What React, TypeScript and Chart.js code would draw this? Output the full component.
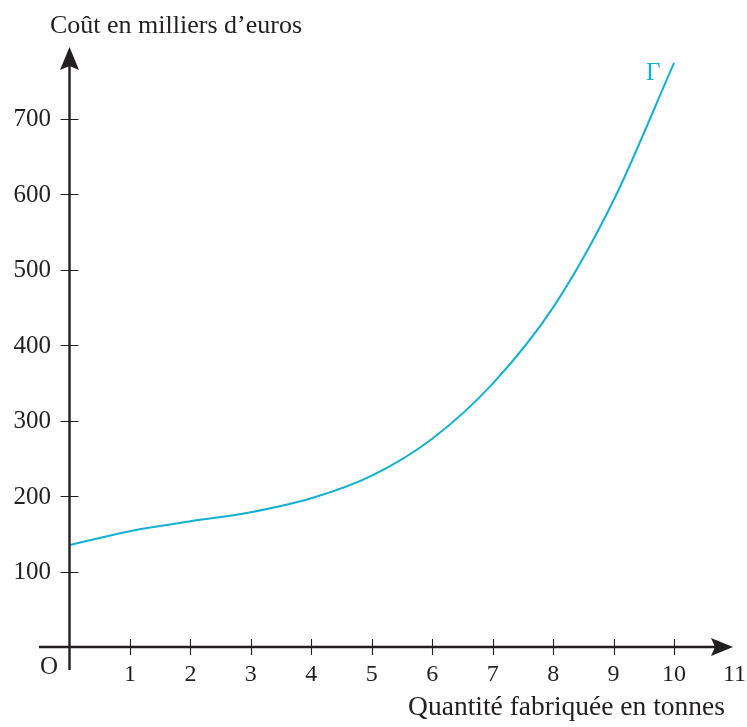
import React, { useEffect, useRef } from "react";
import { Chart, registerables } from "chart.js";

Chart.register(...registerables);

const quantities = [0, 1, 2, 3, 4, 5, 6, 7, 8, 9, 10];
const costs = [135, 153.5, 166.5, 178.5, 197, 227, 276, 349, 450, 592, 774];
const xTickValues = [1, 2, 3, 4, 5, 6, 7, 8, 9, 10, 11];
const yTickValues = [100, 200, 300, 400, 500, 600, 700];
const yAxisTitle = "Coût en milliers d’euros";
const xAxisTitle = "Quantité fabriquée en tonnes";
const curveName = "Γ";

const INK = "#231f20";
const CURVE = "#12b0d2";
const SERIF = "'Liberation Serif', 'Times New Roman', serif";

const axesPlugin = {
  id: "mathAxes",
  afterDraw(chart: any) {
    const ctx = chart.ctx as CanvasRenderingContext2D;
    const xs = chart.scales.x;
    const ys = chart.scales.y;
    const ox = xs.getPixelForValue(0);
    const oy = ys.getPixelForValue(0);
    ctx.save();
    ctx.strokeStyle = INK;
    ctx.fillStyle = INK;
    // axes lines
    ctx.lineWidth = 2.4;
    ctx.beginPath();
    ctx.moveTo(39, oy);
    ctx.lineTo(720, oy);
    ctx.moveTo(ox, 670);
    ctx.lineTo(ox, 60);
    ctx.stroke();
    // arrows
    const tipX = 733;
    const tipY = 47;
    ctx.beginPath();
    ctx.moveTo(tipX, oy);
    ctx.lineTo(tipX - 22, oy - 9);
    ctx.lineTo(tipX - 18, oy);
    ctx.lineTo(tipX - 22, oy + 9);
    ctx.closePath();
    ctx.fill();
    ctx.beginPath();
    ctx.moveTo(ox, tipY);
    ctx.lineTo(ox - 9.5, tipY + 23);
    ctx.lineTo(ox, tipY + 19);
    ctx.lineTo(ox + 9.5, tipY + 23);
    ctx.closePath();
    ctx.fill();
    // ticks
    ctx.lineWidth = 1.1;
    ctx.beginPath();
    xTickValues.slice(0, 10).forEach((v) => {
      const px = Math.round(xs.getPixelForValue(v)) + 0.5;
      ctx.moveTo(px, oy - 8);
      ctx.lineTo(px, oy + 8);
    });
    yTickValues.forEach((v) => {
      const py = Math.round(ys.getPixelForValue(v)) + 0.5;
      ctx.moveTo(ox - 9, py);
      ctx.lineTo(ox + 9, py);
    });
    ctx.stroke();
    // tick labels
    ctx.font = `25px ${SERIF}`;
    ctx.textAlign = "right";
    ctx.textBaseline = "middle";
    yTickValues.forEach((v) => {
      ctx.fillText(String(v), 51, ys.getPixelForValue(v) + 1);
    });
    ctx.font = `24px ${SERIF}`;
    ctx.textAlign = "center";
    ctx.textBaseline = "alphabetic";
    xTickValues.forEach((v) => {
      ctx.fillText(String(v), xs.getPixelForValue(v), 681);
    });
    ctx.font = `25px ${SERIF}`;
    ctx.fillText("O", 49, 674);
    // titles
    ctx.font = `26px ${SERIF}`;
    ctx.textAlign = "left";
    ctx.fillText(yAxisTitle, 50, 33);
    ctx.font = `27.5px ${SERIF}`;
    ctx.textAlign = "right";
    ctx.fillText(xAxisTitle, 725, 715);
    // curve name
    ctx.fillStyle = CURVE;
    ctx.font = `25px ${SERIF}`;
    ctx.textAlign = "left";
    ctx.fillText(curveName, 646, 80);
    ctx.restore();
  },
};

export default function App() {
  const canvasRef = useRef<HTMLCanvasElement | null>(null);
  useEffect(() => {
    if (!canvasRef.current) return;
    const chart = new Chart(canvasRef.current, {
      type: "line",
      data: {
        datasets: [
          {
            data: quantities.map((q, i) => ({ x: q, y: costs[i] })),
            borderColor: CURVE,
            borderWidth: 2,
            pointRadius: 0,
            fill: false,
            cubicInterpolationMode: "monotone",
            clip: false as any,
          },
        ],
      },
      options: {
        responsive: false,
        animation: false,
        layout: { padding: { left: 69.5, right: 12.5, top: 47, bottom: 80 } },
        scales: {
          x: { type: "linear", min: 0, max: 11, display: false },
          y: { type: "linear", min: 0, max: 795, display: false },
        },
        plugins: { legend: { display: false }, tooltip: { enabled: false } },
      },
      plugins: [axesPlugin],
    });
    return () => chart.destroy();
  }, []);
  return (
    <div style={{ position: "absolute", left: 0, top: 0, width: 747, height: 727, background: "#fff" }}>
      <canvas ref={canvasRef} width={747} height={727} style={{ display: "block" }} />
    </div>
  );
}
